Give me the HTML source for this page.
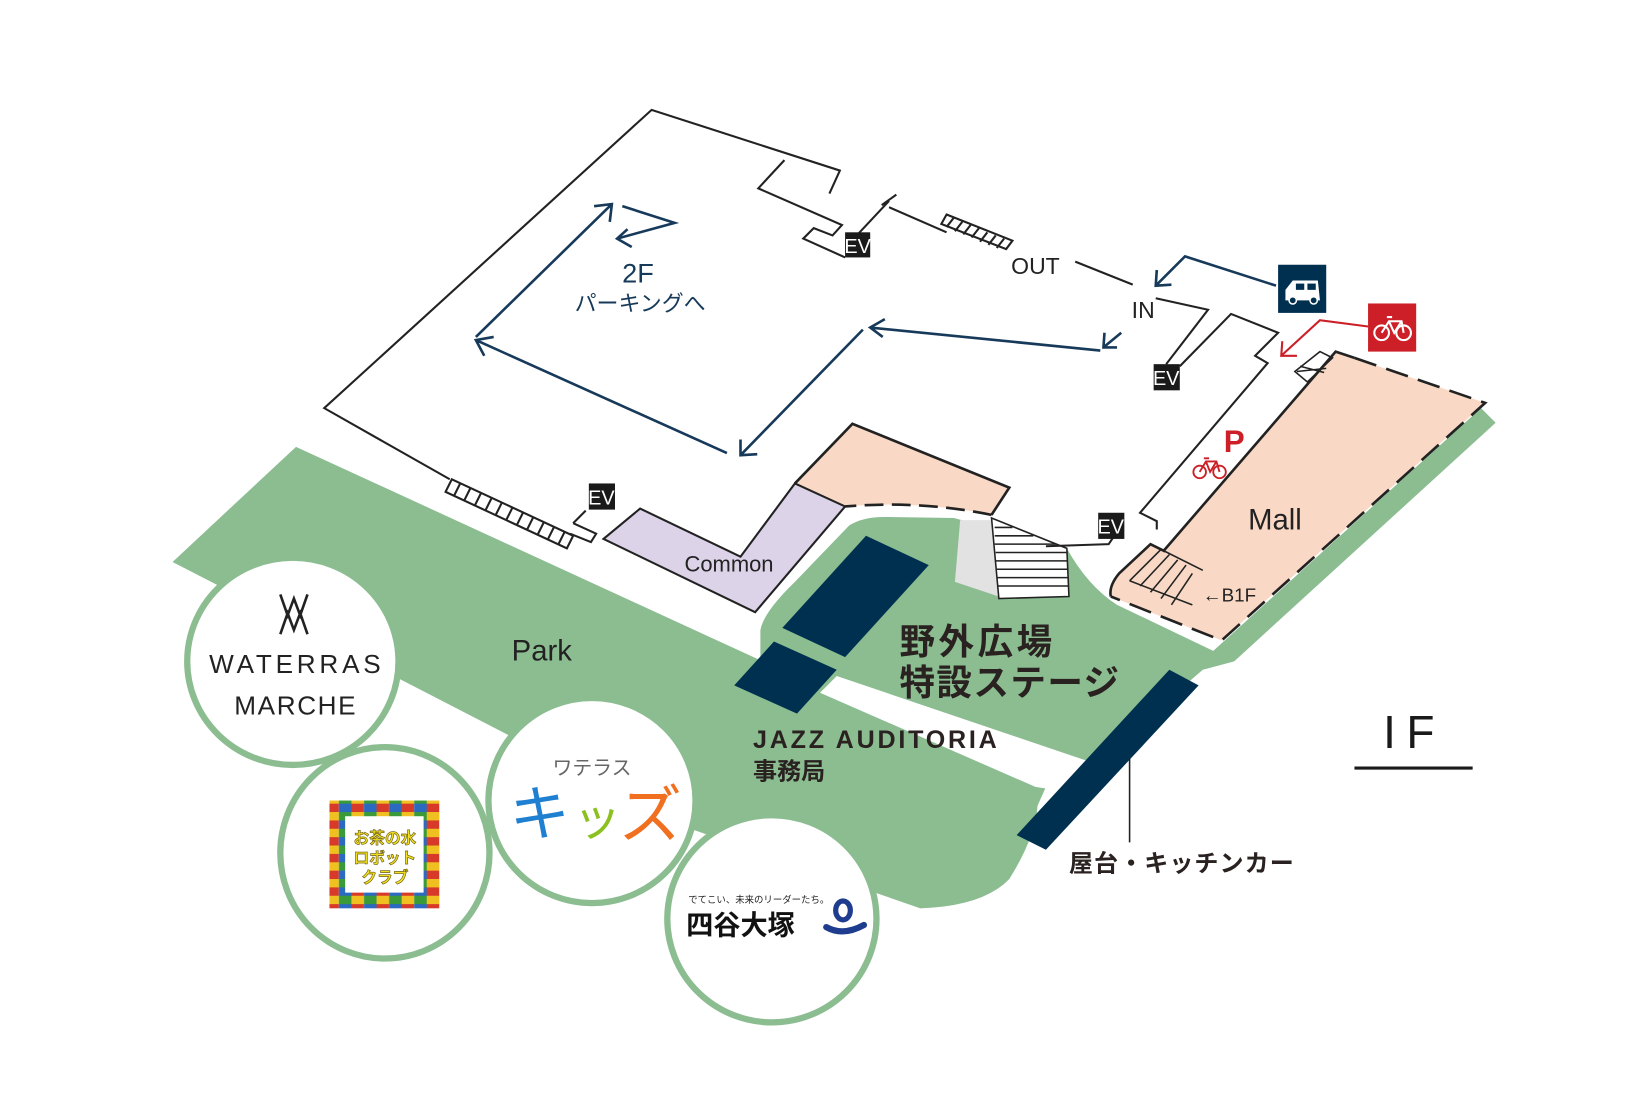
<!DOCTYPE html>
<html><head><meta charset="utf-8"><style>
html,body{margin:0;padding:0;background:#fff;}
svg{display:block;}
text{font-family:"Liberation Sans","Noto Sans CJK JP",sans-serif;}
</style></head><body>
<svg width="1640" height="1104" viewBox="0 0 1568 1055" preserveAspectRatio="none" xmlns="http://www.w3.org/2000/svg">
<defs>
<pattern id="lego" width="24" height="16" patternUnits="userSpaceOnUse">
<rect width="12" height="8" fill="#d83a2a"/><rect x="12" width="12" height="8" fill="#2a6ac0"/>
<rect y="8" width="12" height="8" fill="#f0c020"/><rect x="12" y="8" width="12" height="8" fill="#3a9a3a"/>
</pattern>
</defs>
<!-- green areas -->
<path fill="#8bbd91" d="M283,427 L727,631 L727,602 Q730,585 760,556 L812,502 Q825,494 845,494 L912,495 L1020,524 Q1040,560 1068,578 L1160,622 L1416,390 L1430,404 L1180,632 L1150,640 L1040,735 L1000,752 L992,770 Q990,800 965,840 Q940,866 880,868 L660,792 L165,537 Z"/>
<!-- white band -->
<path fill="#fff" d="M800,646 L1048,730 L1040,752 Q1010,756 990,752 L784,662 Z"/>
<!-- gray + stairs near stage -->
<path fill="#e2e2e2" d="M918,497 L950,497 L955,570 L913,556 Z"/>
<path fill="#fff" stroke="#222" stroke-width="1.5" d="M948,495 L1020,524 L1022,570 L955,572 Z"/>
<g stroke="#222" stroke-width="1.5">
<line x1="951" y1="504" x2="968" y2="504"/><line x1="951" y1="512" x2="988" y2="512"/><line x1="951" y1="520" x2="1010" y2="520"/><line x1="952" y1="528" x2="1020" y2="528"/><line x1="952" y1="536" x2="1021" y2="536"/><line x1="953" y1="544" x2="1021" y2="544"/><line x1="953" y1="552" x2="1021" y2="552"/><line x1="954" y1="560" x2="1022" y2="560"/>
</g>
<!-- navy blocks -->
<g fill="#003050">
<polygon points="828,512 888,540 808,628 748,600"/>
<polygon points="740,613 800,640 762,682 702,655"/>
<polygon points="1118,640 1146,655 1000,812 972,798"/>
</g>
<line x1="1080" y1="725" x2="1080" y2="805" stroke="#222" stroke-width="1.5"/>
<!-- peach stage building -->
<path fill="#f9d9c5" d="M760,462 L815,405 L965,466 L948,492 Q880,478 808,484 Z"/>
<path fill="none" stroke="#222" stroke-width="2.5" d="M760,462 L815,405 L965,466 L948,492"/>
<path fill="none" stroke="#222" stroke-width="2.5" stroke-dasharray="18,8" d="M948,492 Q880,478 808,484"/>
<!-- common -->
<path fill="#dcd3e8" stroke="#222" stroke-width="2" d="M612,486 L708,532 L760,462 L808,484 L722,585 L577,515 Z"/>
<!-- mall -->
<path fill="#f9d9c5" d="M1277,336 L1420,385 L1168,612 L1062,570 Q1060,560 1070,548 L1100,520 L1112,527 Z"/>
<path fill="none" stroke="#222" stroke-width="2.5" d="M1112,527 L1277,336 L1295,342"/>
<path fill="none" stroke="#222" stroke-width="2.5" stroke-dasharray="22,10" d="M1295,342 L1420,385 L1168,612 L1062,570"/>
<path fill="none" stroke="#222" stroke-width="2.5" d="M1062,570 Q1060,560 1070,548 L1100,520 L1114,527"/>
<g stroke="#222" stroke-width="1.5" fill="none">
<path d="M1080,555 L1110,525 M1090,560 L1118,530 M1100,566 L1126,535 M1110,572 L1134,540 M1120,578 L1140,548 M1080,555 L1140,578 M1110,525 L1150,545"/>
<path d="M1238,355 L1262,336 L1274,342 L1250,365 Z M1243,350 L1266,356 M1240,355 L1268,352"/>
</g>
<text x="1150" y="575" font-size="18" fill="#222">←B1F</text>
<!-- building outline lines -->
<g stroke="#222" stroke-width="2" fill="none">
<path d="M430,458 L310,390 L623,105 L803,163 L793,185"/>
<path d="M750,153 L725,180 L805,215 L796,225 L778,218 L768,228 L808,246"/>
<path d="M820,224 L850,192 M843,196 L857,186 M850,198 L905,222"/>
<path d="M905,205 L968,230 L962,238 L900,214 Z M912,208 L905,217 M920,212 L913,221 M928,215 L921,224 M936,218 L929,227 M944,222 L937,231 M952,225 L945,234 M960,228 L953,237"/>
<path d="M1028,250 L1083,272"/>
<path d="M1105,285 L1155,296 L1115,348"/>
<path d="M1128,350 L1177,300 L1222,318 L1200,340 L1212,347 L1090,490 L1106,498 L1106,506"/>
<path d="M1064,514 L1060,520 L1000,522"/>
<path d="M432,458 L548,512 L542,524 L426,470 Z M440,462 L434,474 M450,466 L444,478 M460,471 L454,483 M470,476 L464,488 M480,480 L474,492 M490,485 L484,497 M500,490 L494,502 M510,494 L504,506 M520,499 L514,511 M530,503 L524,515 M540,508 L534,520"/>
<path d="M548,500 L560,488 M548,500 L570,510 L565,518 L545,510"/>
</g>
<!-- EV boxes -->
<g>
<rect x="808" y="222" width="24" height="24" fill="#1a1a1a"/><text x="820" y="242" font-size="19" fill="#fff" text-anchor="middle">EV</text>
<rect x="1103" y="348" width="25" height="25" fill="#1a1a1a"/><text x="1115" y="368" font-size="19" fill="#fff" text-anchor="middle">EV</text>
<rect x="563" y="462" width="25" height="25" fill="#1a1a1a"/><text x="575" y="482" font-size="19" fill="#fff" text-anchor="middle">EV</text>
<rect x="1050" y="490" width="25" height="25" fill="#1a1a1a"/><text x="1062" y="510" font-size="19" fill="#fff" text-anchor="middle">EV</text>
</g>
<!-- arrows navy -->
<g stroke="#173a5a" stroke-width="2.5" fill="none">
<path d="M455,322 L585,195 M568,197 L585,195 L583,212"/>
<path d="M695,433 L455,325 M463,340 L455,325 L472,322"/>
<path d="M825,315 L708,435 M708,420 L708,435 L724,434"/>
<path d="M1052,335 L832,313 M846,305 L832,313 L844,322"/>
<path d="M595,197 L645,213 L590,228 M600,219 L590,228 L604,236"/>
<path d="M1220,273 L1133,245 L1105,273 M1106,258 L1105,273 L1120,272"/>
<path d="M1072,318 L1055,332 M1056,318 L1055,332 L1068,332"/>
</g>
<g stroke="#cc1f27" stroke-width="2" fill="none">
<path d="M1308,312 L1262,306 L1225,340 M1226,326 L1225,340 L1240,340"/>
</g>
<!-- car icon -->
<rect x="1222" y="253" width="46" height="46" fill="#003050"/>
<path d="M1229,287 L1229,277 L1236,268 L1260,268 L1262,287 Z" fill="#fff"/>
<rect x="1239" y="271" width="8" height="6" fill="#003050"/><rect x="1250" y="271" width="8" height="6" fill="#003050"/>
<circle cx="1236" cy="287" r="3.5" fill="#003050" stroke="#fff" stroke-width="1.5"/><circle cx="1256" cy="287" r="3.5" fill="#003050" stroke="#fff" stroke-width="1.5"/>
<!-- bike icon -->
<rect x="1308" y="290" width="46" height="46" fill="#cc1f27"/>
<g stroke="#fff" stroke-width="2" fill="none"><circle cx="1321" cy="318" r="7"/><circle cx="1342" cy="318" r="7"/><path d="M1321,318 L1328,307 L1340,307 L1342,318 M1328,307 L1333,318 L1340,307 M1326,303 L1331,303"/></g>
<!-- bike parking -->
<text x="1170" y="432" font-size="30" font-weight="bold" fill="#cc1f27">P</text>
<g stroke="#cc1f27" stroke-width="1.8" fill="none"><circle cx="1147" cy="451" r="6"/><circle cx="1166" cy="451" r="6"/><path d="M1147,451 L1153,441 L1163,441 L1166,451 M1153,441 L1157,451 L1163,441 M1151,438 L1156,438"/></g>
<!-- labels -->
<text x="610" y="270" font-size="26" fill="#173a5a" text-anchor="middle">2F</text>
<text x="612" y="297" font-size="21" fill="#173a5a" text-anchor="middle">パーキングへ</text>
<text x="990" y="262" font-size="22" fill="#222" text-anchor="middle">OUT</text>
<text x="1093" y="304" font-size="22" fill="#222" text-anchor="middle">IN</text>
<text x="697" y="546" font-size="21" fill="#222" text-anchor="middle">Common</text>
<text x="1219" y="506" font-size="28" fill="#222" text-anchor="middle">Mall</text>
<text x="518" y="631" font-size="28" fill="#222" text-anchor="middle">Park</text>
<text x="860" y="625" font-size="34" font-weight="bold" fill="#2a2220" textLength="146">野外広場</text>
<text x="860" y="664" font-size="34" font-weight="bold" fill="#2a2220" textLength="210">特設ステージ</text>
<text x="720" y="715" font-size="24" font-weight="bold" fill="#2a2220" textLength="233">JAZZ AUDITORIA</text>
<text x="720" y="745" font-size="23" font-weight="bold" fill="#2a2220">事務局</text>
<text x="1022" y="833" font-size="23" font-weight="bold" fill="#2a2220" textLength="215">屋台・キッチンカー</text>
<text x="1352" y="715" font-size="44" fill="#1a1a1a" text-anchor="middle" letter-spacing="10">IF</text>
<line x1="1295" y1="734" x2="1408" y2="734" stroke="#1a1a1a" stroke-width="3"/>
<!-- circles -->
<g fill="#fff" stroke="#8bbd91" stroke-width="6">
<ellipse cx="280" cy="632" rx="101" ry="99"/>
<ellipse cx="368" cy="815" rx="100" ry="101"/>
<ellipse cx="566" cy="765" rx="99" ry="98"/>
<ellipse cx="738" cy="878" rx="100" ry="99"/>
</g>
<!-- waterras -->
<g stroke="#222" stroke-width="2.5" fill="none"><path d="M268,568 L275,588 L281,572 L287,588 L294,568 M268,606 L275,586 L281,602 L287,586 L294,606"/></g>
<text x="282" y="643" font-size="25" fill="#222" text-anchor="middle" textLength="164">WATERRAS</text>
<text x="282" y="683" font-size="25" fill="#222" text-anchor="middle" textLength="116">MARCHE</text>
<!-- robot logo -->
<rect x="315" y="765" width="105" height="103" fill="url(#lego)"/>
<rect x="330" y="780" width="75" height="73" fill="#fff"/>
<text x="368" y="806" font-size="15" font-weight="bold" fill="#f0e020" stroke="#6a5a10" stroke-width="0.6" text-anchor="middle">お茶の水</text>
<text x="368" y="825" font-size="15" font-weight="bold" fill="#f0e020" stroke="#6a5a10" stroke-width="0.6" text-anchor="middle">ロボット</text>
<text x="368" y="844" font-size="15" font-weight="bold" fill="#f0e020" stroke="#6a5a10" stroke-width="0.6" text-anchor="middle">クラブ</text>
<!-- kids -->
<text x="566" y="740" font-size="19" fill="#666" text-anchor="middle">ワテラス</text>
<text x="487" y="798" font-size="58" fill="#1f7fd0">キ</text>
<text x="548" y="798" font-size="46" fill="#8cc020">ッ</text>
<text x="592" y="800" font-size="60" fill="#f07020">ズ</text>
<!-- yotsuya -->
<text x="658" y="863" font-size="9" fill="#222">でてこい、未来のリーダーたち。</text>
<text x="656" y="893" font-size="26" font-weight="bold" fill="#111">四谷大塚</text>
<ellipse cx="806" cy="870" rx="7" ry="9" fill="none" stroke="#1f3d8f" stroke-width="5"/>
<path d="M790,886 Q806,895 826,884" fill="none" stroke="#1f3d8f" stroke-width="6" stroke-linecap="round"/>
</svg>
</body></html>
